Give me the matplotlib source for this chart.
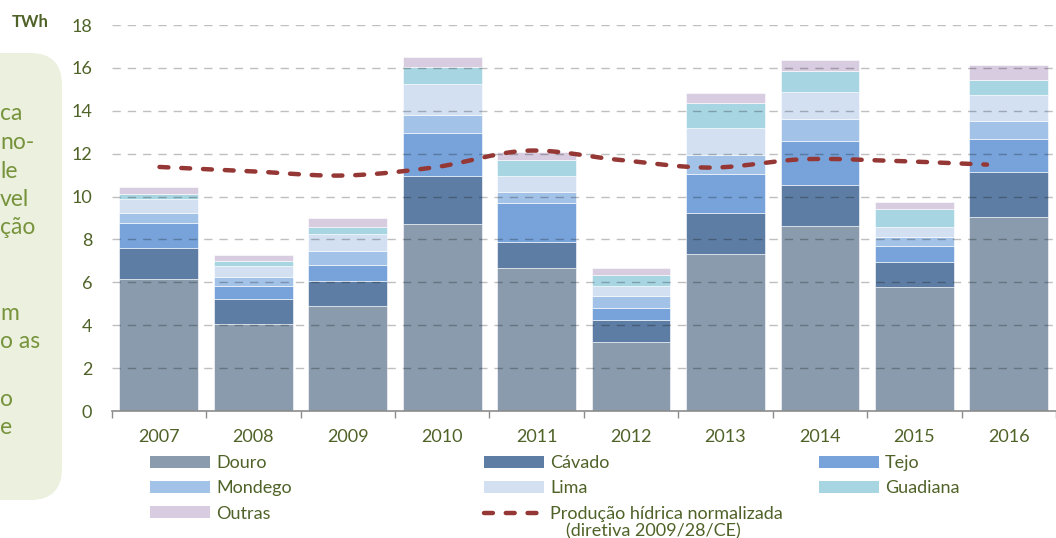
import numpy as np
import matplotlib
matplotlib.use("Agg")
import matplotlib.pyplot as plt
from matplotlib.patches import FancyBboxPatch, Patch
from matplotlib.lines import Line2D

plt.rcParams['font.family'] = ['Lato', 'DejaVu Sans']

# ---------------- data ----------------
years = ['2007', '2008', '2009', '2010', '2011', '2012', '2013', '2014', '2015', '2016']
douro    = [6.16, 4.06, 4.90, 8.71, 6.67, 3.22, 7.32, 8.63, 5.78, 9.06]
cavado   = [1.46, 1.18, 1.16, 2.25, 1.23, 1.04, 1.92, 1.93, 1.17, 2.10]
tejo     = [1.16, 0.59, 0.76, 2.01, 1.80, 0.56, 1.83, 2.05, 0.76, 1.54]
mondego  = [0.45, 0.42, 0.64, 0.84, 0.51, 0.56, 0.87, 1.01, 0.41, 0.84]
lima     = [0.66, 0.51, 0.78, 1.46, 0.75, 0.45, 1.26, 1.26, 0.46, 1.20]
guadiana = [0.25, 0.24, 0.34, 0.77, 0.75, 0.51, 1.18, 0.99, 0.83, 0.71]
outras   = [0.31, 0.29, 0.42, 0.47, 0.35, 0.33, 0.47, 0.50, 0.34, 0.69]
normalizada = [11.38, 11.18, 10.98, 11.37, 12.14, 11.71, 11.35, 11.74, 11.66, 11.49]

series_names = ['Douro', 'Cávado', 'Tejo', 'Mondego', 'Lima', 'Guadiana', 'Outras']
series_vals = [douro, cavado, tejo, mondego, lima, guadiana, outras]
series_cols = ['#8A9BAD', '#5E7DA4', '#77A3DA', '#A3C2E8', '#D2E0F2', '#A8D5E2', '#D7CCE0']
line_name = 'Produção hídrica normalizada'
line_name2 = '(diretiva 2009/28/CE)'

side_lines = ['ca', 'no-', 'le', 'vel', 'ção', 'm', 'o as', 'o', 'e']
side_rows = [0, 1, 2, 3, 4, 7, 8, 10, 11]

txt_col = '#4F6228'
side_col = '#77933C'
line_col = '#953735'

W, H = 1056, 538
fig = plt.figure(figsize=(W / 100, H / 100), dpi=100)

def fx(px):
    return px / W

def fy(py):
    return 1 - py / H

# side panel
panel = FancyBboxPatch((fx(-40), fy(500)), fx(102), fy(53) - fy(500),
                       boxstyle="round,pad=0,rounding_size=0.03",
                       transform=fig.transFigure, facecolor='#EBF1DE',
                       edgecolor='none', mutation_aspect=W / H)
fig.patches.append(panel)
for t, r in zip(side_lines, side_rows):
    fig.text(fx(0), fy(114 + 28.5 * r), t, color=side_col, fontsize=16.5,
             ha='left', va='center')

fig.text(fx(12), fy(22), 'TWh', color=txt_col, fontsize=12, fontweight='bold',
         ha='left', va='center')

# main axes
left, bottom, top = 111.7, 411, 25
ax = fig.add_axes([fx(left), fy(bottom), 1 - fx(left), fy(top) - fy(bottom)])
x = np.arange(len(years))
bottoms = np.zeros(len(years))
for name, vals, col in zip(series_names, series_vals, series_cols):
    ax.bar(x, vals, width=0.835, bottom=bottoms, color=col, label=name,
           edgecolor='white', linewidth=0.4, zorder=1)
    bottoms += np.array(vals)

ax.set_ylim(0, 18)
ax.set_yticks(np.arange(0, 19, 2))
ax.set_xlim(-0.5, 9.37)
ax.set_xticks(x)
ax.set_xticklabels(years)
ax.set_xticks(np.arange(-0.5, 10, 1), minor=True)
ax.tick_params(axis='x', which='major', length=0, pad=13, labelsize=13, labelcolor=txt_col)
ax.tick_params(axis='x', which='minor', length=5, width=1, color='#8C8C8C', direction='out')
ax.tick_params(axis='y', length=0, pad=14, labelsize=13, labelcolor=txt_col)
for s in ['top', 'right', 'left']:
    ax.spines[s].set_visible(False)
ax.spines['bottom'].set_color('#8C8C8C')
ax.spines['bottom'].set_linewidth(1.2)
ax.set_axisbelow(False)
ax.yaxis.grid(True, color='black', alpha=0.25, linewidth=1.0, linestyle=(0, (6, 5)))
for gl in ax.get_ygridlines():
    gl.set_zorder(2)
ax.get_ygridlines()[0].set_visible(False)

# line on a twin x-axis
ax2 = ax.twiny()
ax2.set_xlim(-0.52, 9.75)
ax2.set_ylim(0, 18)
ax2.set_axis_off()
xs = np.arange(len(normalizada))
ys = np.array(normalizada, dtype=float)
# Catmull-Rom smoothing (like a smoothed Excel line)
P = np.column_stack([xs, ys])
Pext = np.vstack([2 * P[0] - P[1], P, 2 * P[-1] - P[-2]])
tt = np.linspace(0, 1, 30)
curve = []
for i in range(1, len(Pext) - 2):
    p0, p1, p2, p3 = Pext[i - 1], Pext[i], Pext[i + 1], Pext[i + 2]
    seg = 0.5 * ((2 * p1)[None, :] + (-p0 + p2)[None, :] * tt[:, None]
                 + (2 * p0 - 5 * p1 + 4 * p2 - p3)[None, :] * tt[:, None] ** 2
                 + (-p0 + 3 * p1 - 3 * p2 + p3)[None, :] * tt[:, None] ** 3)
    curve.append(seg if i == 1 else seg[1:])
curve = np.vstack(curve)
ax2.plot(curve[:, 0], curve[:, 1], color=line_col, linewidth=3.2,
         linestyle=(0, (2.0, 2.9)), dash_capstyle='round', zorder=5)

# legends (three columns)
hs = [Patch(facecolor=c, edgecolor='none') for c in series_cols]
lh = Line2D([0], [0], color=line_col, linewidth=3.2, linestyle=(0, (2.0, 2.9)),
            dash_capstyle='round')
cols = [([hs[0], hs[3], hs[6]], ['Douro', 'Mondego', 'Outras'], 150),
        ([hs[1], hs[4], lh], ['Cávado', 'Lima', line_name], 484),
        ([hs[2], hs[5]], ['Tejo', 'Guadiana'], 819)]
for handles, labels, xp in cols:
    leg = fig.legend(handles, labels, loc='upper left',
                     bbox_to_anchor=(fx(xp), fy(455)), frameon=False,
                     fontsize=13, labelcolor=txt_col, handlelength=3.33,
                     handleheight=0.65, handletextpad=0.33, labelspacing=0.52,
                     borderpad=0, borderaxespad=0)
fig.text(fx(566), fy(531), line_name2, color=txt_col, fontsize=13,
         ha='left', va='center')

fig.savefig('out.png', dpi=100)
